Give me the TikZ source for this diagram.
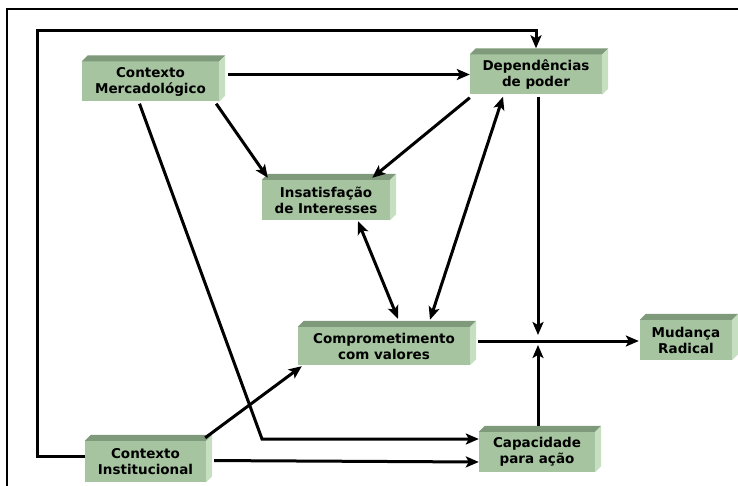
\documentclass[tikz,border=0pt]{standalone}
\usepackage{fontspec}
\setsansfont{DejaVu Sans}
\usetikzlibrary{arrows.meta}
\definecolor{facec}{RGB}{165,196,159}
\definecolor{topc}{RGB}{126,154,122}
\definecolor{sidec}{RGB}{198,223,192}
\begin{document}
\begin{tikzpicture}[x=1pt,y=-1pt,
  blk/.style={fill=facec, minimum height=40pt, inner sep=0pt, align=center,
    font=\sffamily\bfseries\fontsize{13.5}{16}\selectfont},
  arr/.style={line width=3pt, line join=miter, -{Stealth[length=13pt,width=11pt,inset=3pt]}},
  dbl/.style={line width=3pt, {Stealth[length=13pt,width=11pt,inset=3pt]}-{Stealth[length=13pt,width=11pt,inset=3pt]}},
  frame/.style={line width=2pt}]
\useasboundingbox (0,0) rectangle (738,486);

% outer frame (open on the right and bottom)
\draw[frame] (7,486) -- (7,9) -- (738,9);

% blocks
\node[blk, minimum width=137pt] (cm) at (150.5,81.5) {Contexto\\Mercadológico};
\node[blk, minimum width=132pt] (dp) at (536,74.5) {Dependências\\de poder};
\node[blk, minimum width=128pt] (in) at (326,200) {Insatisfação\\de Interesses};
\node[blk, minimum width=172pt, minimum height=38pt] (cv) at (384,346) {Comprometimento\\com valores};
\node[blk, minimum width=92pt] (mr) at (686,340) {Mudança\\Radical};
\node[blk, minimum width=116pt] (ca) at (537,452) {Capacidade\\para ação};
\node[blk, minimum width=121pt, minimum height=41pt] (ci) at (145.5,461.5) {Contexto\\Institucional};

% bevelled top and right faces of the blocks
\foreach \n in {cm,dp,in,cv,mr,ca,ci}{
  \fill[topc] (\n.north west) -- ([shift={(6pt,6pt)}]\n.north west)
    -- ([shift={(6pt,6pt)}]\n.north east) -- (\n.north east) -- cycle;
  \fill[sidec] (\n.north east) -- ([shift={(6pt,6pt)}]\n.north east)
    -- ([shift={(6pt,6pt)}]\n.south east) -- (\n.south east) -- cycle;
}

% helper points
\coordinate (jn) at (538,341);
\coordinate (bend) at (262,439);
\coordinate (lp) at (37,31);

% connectors
\draw[arr, shorten <=9pt] (cm.east |- dp.west) -- (dp.west);
\draw[arr] ([xshift=-3pt,yshift=-2pt]cm.south east) -- ([xshift=6pt,yshift=2pt]in.north west);
\draw[arr] ([xshift=-11pt,yshift=-2pt]cm.south) -- (bend) -- (bend -| ca.west);
\draw[arr] ([yshift=-3pt]dp.south west) -- ([xshift=-18pt,yshift=2pt]in.north east);
\draw[dbl] ([xshift=32pt,yshift=-1pt]in.south) -- ([xshift=14pt,yshift=8pt]cv.north);
\draw[dbl] ([xshift=46pt,yshift=7pt]cv.north) -- ([xshift=-33pt,yshift=-2pt]dp.south);
\draw[arr] ([yshift=-2pt]dp.south -| jn) -- ([yshift=6pt]jn);
\draw[arr] ([yshift=6pt]ca.north -| jn) -- ([yshift=-4pt]jn);
\draw[arr, shorten <=8pt] (cv.east |- jn) -- ([xshift=-1pt]mr.west |- jn);
\draw[arr] ([yshift=5pt]ci.west) -| (lp) -| ([yshift=6pt]dp.north);
\draw[arr] ([xshift=-1pt,yshift=3pt]ci.north east) -- ([xshift=4pt,yshift=-1pt]cv.south west);
\draw[arr, shorten <=8pt] ([yshift=1pt]ci.east) -- ([yshift=-10pt]ca.west);
\end{tikzpicture}
\end{document}
